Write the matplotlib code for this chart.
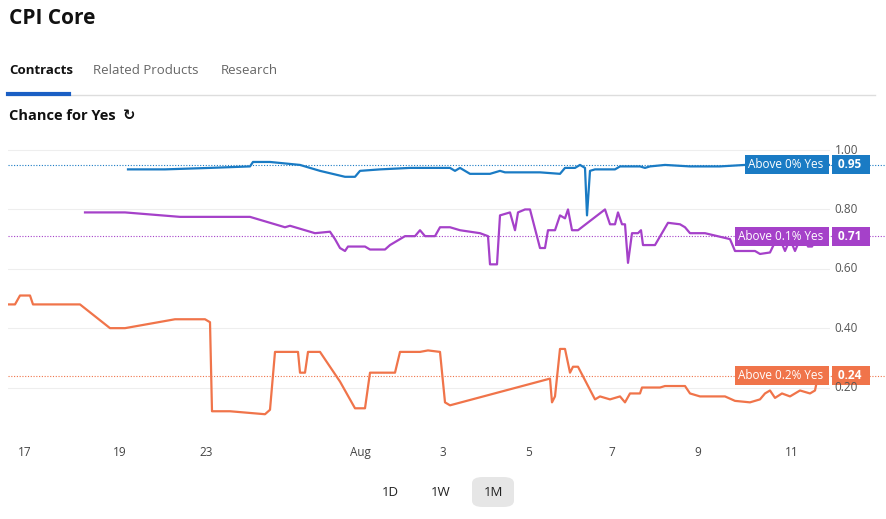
import matplotlib.pyplot as plt #plotting library
from matplotlib.patches import FancyBboxPatch #rounded buttons

plt.rcParams['font.family'] = ['Open Sans', 'DejaVu Sans'] #font like the website

#------------------------

#x is a trading-time axis, ticks placed on it below
ticks = [25, 120, 206, 360, 443, 529, 612, 698, 792]
tick_labels = ["17", "19", "23", "Aug", "3", "5", "7", "9", "11"]

above_0 = [(128,.935),(165,.935),(210,.94),(250,.945),(253,.96),(270,.96),(300,.95),(320,.93),(345,.91),(355,.91),
           (360,.93),(380,.935),(410,.94),(450,.94),(455,.93),(460,.94),(470,.92),(490,.92),(500,.93),(505,.925),
           (540,.925),(560,.92),(565,.94),(575,.94),(580,.95),(585,.94),(587,.78),(590,.93),(595,.935),(615,.935),
           (620,.945),(640,.945),(645,.94),(650,.945),(665,.95),(690,.945),(720,.945),(745,.95),(830,.95)]

above_01 = [(85,.79),(125,.79),(180,.775),(250,.775),(285,.74),(290,.745),(300,.735),(315,.72),(330,.725),(335,.70),
            (340,.67),(345,.66),(348,.675),(365,.675),(370,.665),(385,.665),(390,.68),(400,.70),(405,.71),(415,.71),
            (420,.73),(425,.71),(435,.71),(440,.74),(450,.74),(460,.73),(480,.72),(488,.71),(490,.615),(497,.615),
            (500,.78),(510,.79),(515,.73),(518,.79),(525,.80),(530,.80),(540,.67),(545,.67),(548,.73),(555,.73),
            (560,.78),(565,.77),(568,.80),(572,.73),(578,.73),(605,.80),(610,.75),(615,.75),(618,.79),(622,.75),
            (625,.75),(628,.62),(632,.72),(638,.72),(641,.73),(643,.68),(655,.68),(668,.755),(680,.75),(685,.74),
            (690,.72),(705,.72),(730,.70),(735,.66),(755,.66),(760,.65),(770,.655),(775,.69),(780,.70),(785,.66),
            (790,.70),(795,.66),(800,.70),(805,.70),(808,.675),(812,.675),(816,.70),(820,.71)]

above_02 = [(8,.48),(15,.48),(20,.51),(30,.51),(33,.48),(80,.48),(110,.40),(125,.40),(175,.43),(205,.43),
            (210,.42),(212,.12),(230,.12),(265,.11),(270,.125),(275,.32),(298,.32),(300,.25),(305,.25),(308,.32),
            (320,.32),(340,.22),(355,.13),(365,.13),(370,.25),(395,.25),(400,.32),(420,.32),(428,.325),(440,.32),
            (445,.15),(450,.14),(550,.23),(552,.15),(555,.17),(560,.33),(565,.33),(570,.25),(573,.27),(578,.27),
            (595,.16),(600,.17),(610,.16),(620,.17),(625,.15),(630,.18),(640,.18),(642,.20),(660,.20),(665,.205),
            (685,.205),(690,.18),(700,.17),(725,.17),(735,.155),(750,.15),(760,.16),(765,.18),(770,.19),(775,.165),
            (782,.18),(790,.17),(800,.19),(810,.18),(815,.19),(818,.24),(822,.24)]

series = [(above_0, "#1a7bc4", "Above 0% Yes", 0.95),
          (above_01, "#a541c9", "Above 0.1% Yes", 0.71),
          (above_02, "#f0744a", "Above 0.2% Yes", 0.24)]

#------------------------

fig = plt.figure(figsize=(8.86, 5.19), dpi=100)
ax = fig.add_axes([8/886, 1 - 435/519, 822/886, 295/519])

for data, color, name, last in series:
    plt.plot([p[0] for p in data], [p[1] for p in data], color=color, lw=1.6)
    plt.axhline(last, color=color, lw=0.8, ls=(0, (1, 1.5)), xmin=0, xmax=1.2, clip_on=False)
    plt.text(826, last, name + " ", color="white", fontsize=8.5, ha="right", va="center",
             bbox=dict(boxstyle="square,pad=0.25", fc=color, ec="none"), clip_on=False)
    plt.text(835, last, " %.2f  " % last, color="white", fontsize=8.5, fontweight="bold", ha="left", va="center",
             bbox=dict(boxstyle="square,pad=0.25", fc=color, ec="none"), clip_on=False)

plt.xlim(8, 830)
plt.ylim(0.04, 1.034)
plt.xticks(ticks, tick_labels, fontsize=8.5, color="#444444")
plt.yticks([])
for v in [0.2, 0.4, 0.6, 0.8, 1.0]:
    plt.axhline(v, color="#eeeeee", lw=0.8, zorder=0)
    plt.text(858, v, "%.2f" % v, fontsize=8.5, color="#555555", ha="right", va="center", clip_on=False)
ax.tick_params(length=0, pad=8)
for s in ax.spines.values():
    s.set_visible(False)

#header texts
fig.text(9/886, 1 - 18/519, "CPI Core", fontsize=15, fontweight="bold", va="center", color="#111111")
fig.text(9/886, 1 - 71/519, "Contracts", fontsize=9.5, fontweight="bold", va="center", color="#111111")
fig.text(93/886, 1 - 71/519, "Related Products", fontsize=9.5, va="center", color="#666666")
fig.text(221/886, 1 - 71/519, "Research", fontsize=9.5, va="center", color="#666666")
fig.add_artist(plt.Line2D([8/886, 875/886], [1 - 95/519] * 2, color="#dddddd", lw=1))
fig.add_artist(plt.Line2D([8/886, 69/886], [1 - 94/519] * 2, color="#1a5fc4", lw=3))
fig.text(9/886, 1 - 116/519, "Chance for Yes  \u21bb", fontsize=10.5, fontweight="bold", va="center", color="#111111")

#range buttons
fig.add_artist(FancyBboxPatch((472/886, 1 - 507/519), 42/886, 30/519, boxstyle="round,pad=0,rounding_size=0.012",
                              fc="#e6e6e6", ec="none", transform=fig.transFigure))
for x, lab in [(390, "1D"), (441, "1W"), (493, "1M")]:
    fig.text(x/886, 1 - 492/519, lab, fontsize=9.5, ha="center", va="center", color="#222222")

plt.savefig("out.png", dpi=100)
